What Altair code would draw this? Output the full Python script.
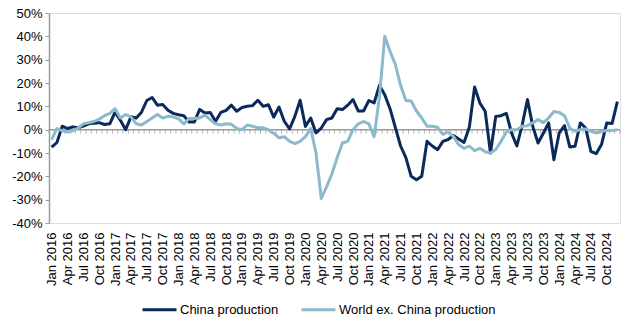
import json
import altair as alt
import pandas as pd

years = [2016, 2017, 2018, 2019, 2020, 2021, 2022, 2023, 2024]
month_names = ["Jan", "Feb", "Mar", "Apr", "May", "Jun", "Jul", "Aug", "Sep", "Oct", "Nov", "Dec"]
month_labels = [f"{m} {y}" for y in years for m in month_names]

series_names = ["China production", "World ex. China production"]

china = [
    -7.5, -5.5, 1.5, 0.5, 1.2, 0.8, 1.5, 2.5, 2.8, 3.0, 2.2, 2.5,
    7.5, 4.0, 0.0, 5.5, 5.0, 7.5, 12.5, 13.8, 10.5, 10.8, 8.3, 7.0,
    6.4, 6.0, 3.3, 3.3, 8.7, 7.1, 7.4, 3.6, 7.4, 8.3, 10.5, 7.9,
    9.5, 10.0, 10.3, 12.6, 10.0, 10.7, 5.4, 9.7, 3.6, 0.3, 5.7, 12.6,
    1.4, 5.0, -1.4, 0.7, 4.3, 5.0, 9.0, 8.6, 10.5, 12.9, 8.0, 8.0,
    12.5, 11.5, 19.0, 15.0, 9.0, 1.0, -7.0, -12.0, -20.0, -21.5, -20.0, -5.0,
    -7.0, -8.6, -5.0, -4.2, -2.5, -4.0, -5.5, 1.0, 18.3, 11.4, 7.9, -10.0,
    5.7, 6.0, 7.0, -1.5, -7.0, 2.0, 12.9, 1.4, -5.7, -1.5, 2.9, -12.9,
    -1.4, 1.7, -7.4, -7.1, 2.9, 0.7, -9.3, -10.3, -6.4, 2.9, 2.6, 12.0,
]

world = [
    -4.3, 0.5, -0.5, -1.0, -0.5, 0.7, 2.5, 3.0, 3.5, 4.5, 6.0, 7.0,
    9.0, 5.0, 6.5, 5.5, 2.5, 2.0, 3.5, 5.0, 6.5, 5.0, 5.7, 5.5,
    4.6, 2.5, 4.8, 4.8, 5.0, 6.2, 4.3, 2.5, 2.0, 2.5, 2.3, 0.5,
    0.0, 2.0, 1.5, 0.8, 0.8, 0.0, -1.5, -3.5, -3.0, -5.0, -6.0, -5.0,
    -3.0, 0.5, -10.0, -29.5, -24.5, -19.0, -12.0, -5.7, -5.0, 0.0, 2.5, 3.5,
    2.5, -3.0, 14.0, 40.0, 33.6, 28.0, 19.0, 12.5, 12.3, 8.0, 5.0, 1.5,
    1.5, 1.0, -2.0, -1.0, -3.0, -6.5, -8.0, -7.0, -9.0, -8.0, -9.5, -10.0,
    -8.5, -5.0, -1.0, 0.0, 0.0, 1.5, 1.7, 2.9, 4.3, 3.0, 5.0, 7.8,
    7.4, 6.0, 0.7, -0.7, 0.0, 0.3, -0.7, -1.4, -0.8, -0.3, -0.4, 0.0,
]

y_ticks = [-40, -30, -20, -10, 0, 10, 20, 30, 40, 50]

DARK = "#0a2a5a"
LIGHT = "#8dbaca"
GRAY = "#9a9a9a"
FONT = "Liberation Sans"

n = len(month_labels)
rows = []
for i in range(n):
    rows.append({"idx": i, "series": series_names[0], "value": china[i]})
for i in range(n):
    rows.append({"idx": i, "series": series_names[1], "value": world[i]})
df = pd.DataFrame(rows)

bounds = pd.DataFrame({"idx": [i - 0.5 for i in range(n + 1)]})

label_expr = json.dumps(month_labels) + "[datum.value]"

x_scale = alt.Scale(domain=[-0.5, n - 0.5], nice=False, zero=False)
y_scale = alt.Scale(domain=[-40, 50], nice=False, zero=False)

x_axis = alt.Axis(
    values=list(range(0, n, 3)),
    labelExpr=label_expr,
    labelAngle=-90,
    labelAlign="right",
    labelBaseline="middle",
    labelFontSize=13,
    labelColor="#000000",
    labelPadding=9,
    ticks=False,
    domain=False,
    grid=False,
    labelOverlap=False,
    labelFont=FONT,
    title=None,
)

y_axis = alt.Axis(
    values=y_ticks,
    labelExpr="datum.value + '%'",
    labelFontSize=13,
    labelColor="#000000",
    labelPadding=3,
    labelOverlap=False,
    tickSize=4,
    tickColor=GRAY,
    domainColor=GRAY,
    domainWidth=1.5,
    grid=False,
    labelFont=FONT,
    title=None,
)

X = alt.X("idx:Q", scale=x_scale, axis=x_axis, title=None)

zero_rule = alt.Chart(df).mark_rule(color=GRAY, strokeWidth=1.5).encode(
    y=alt.Y("zero:Q", scale=y_scale, axis=y_axis, title=None)
).transform_aggregate(zero="min(idx)").transform_calculate(zero="0")

zero_ticks = alt.Chart(bounds).mark_tick(
    orient="vertical", size=4, thickness=1, color=GRAY, yOffset=2
).encode(
    x=X,
    y=alt.Y("zero:Q", scale=y_scale, axis=y_axis, title=None),
).transform_calculate(zero="0")

lines = alt.Chart(df).mark_line(strokeWidth=3, strokeJoin="round").encode(
    x=X,
    y=alt.Y("value:Q", scale=y_scale, axis=y_axis, title=None),
    color=alt.Color(
        "series:N",
        scale=alt.Scale(domain=series_names, range=[DARK, LIGHT]),
        legend=alt.Legend(
            title=None,
            orient="none",
            legendX=92,
            legendY=278,
            direction="horizontal",
            symbolType="stroke",
            symbolSize=1156,
            symbolStrokeWidth=3,
            labelFontSize=13,
            labelFont=FONT,
            labelColor="#000000",
            labelOffset=2,
            columnPadding=16,
        ),
    ),
    order=alt.Order("idx:Q"),
)

chart = alt.layer(zero_rule, zero_ticks, lines).properties(
    width=571,
    height=210,
    autosize=alt.AutoSizeParams(type="none"),
    padding={"left": 49, "top": 13, "right": 1, "bottom": 98},
).configure_view(stroke=None).configure(font=FONT)

chart.save("out.html", embed_options={"renderer": "svg", "actions": False})
